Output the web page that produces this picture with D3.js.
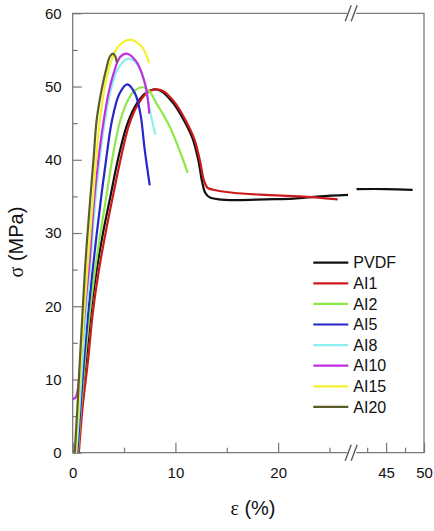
<!DOCTYPE html>
<html>
<head>
<meta charset="utf-8">
<script src="https://cdn.jsdelivr.net/npm/d3@7"></script>
<style>
  body { margin: 0; background: #fff; }
  #container { width: 434px; height: 531px; }
  text { font-family: "Liberation Sans", Arial, sans-serif; fill: #111; }
</style>
</head>
<body>
<div id="container"></div>
<script>
// series names + colours (legend order)
const seriesNames = ["PVDF", "AI1", "AI2", "AI5", "AI8", "AI10", "AI15", "AI20"];
const seriesColors = ["#111111", "#cc1a1a", "#8ee84a", "#2626cc", "#8cf0f0", "#c22fe0", "#f2f22e", "#5c5c2a"];

// strain (%) , stress (MPa)
const pvdf = [[0.4,0],[0.75,6],[1.3,12.7],[1.75,19],[2.33,24.9],[2.95,30],[3.7,35.2],[4.4,40],[5.2,44.4],[6.0,47.1],[7.0,49.0],[7.8,49.6],[8.6,49.4],[9.8,47.7],[10.9,45.2],[11.7,42.8],[12.25,39.8],[12.6,37],[12.9,35.5],[13.3,34.9],[14.2,34.6],[16,34.5],[18.8,34.6],[21.5,34.7],[24,35.0],[26.8,35.2]];
const pvdfTail = [[41.1,36.0],[45,36.0],[48.5,35.9]];
const ai1 = [[0.6,0],[0.95,6],[1.5,12.7],[1.95,19],[2.55,24.9],[3.2,30],[3.94,35.2],[4.7,40.3],[5.45,44.6],[6.25,47.3],[7.2,49.1],[8.0,49.6],[8.8,49.4],[10.0,47.7],[11.1,45.1],[11.85,42.8],[12.4,39.8],[12.75,37.3],[13.1,36.2],[13.7,35.9],[15.6,35.5],[18.8,35.2],[22.1,35.0],[25.8,34.6]];
const ai2 = [[0.5,0],[0.8,6],[1.2,12.7],[1.65,19],[2.17,24.9],[2.7,30],[3.3,35.2],[3.9,40.5],[4.6,45.2],[5.4,48.2],[6.1,49.5],[6.8,49.9],[7.5,49.3],[8.15,47.7],[8.8,46.2],[9.45,44.5],[10.4,41.3],[11.2,38.2]];
const ai5 = [[0.45,0],[0.75,6],[1.1,12.7],[1.5,19],[1.94,24.9],[2.35,30],[2.8,35.2],[3.3,40.5],[3.8,45.2],[4.55,49.0],[5.3,50.3],[6.05,49.1],[6.6,46.2],[7.0,41.5],[7.5,36.5]];
const ai8 = [[0.35,0],[0.65,6],[0.95,12.7],[1.3,19],[1.68,24.9],[1.95,30],[2.26,35.2],[2.65,40.5],[3.14,45.4],[3.7,49.5],[4.4,52.4],[5.4,53.8],[6.3,53],[6.9,51],[7.5,46.8],[8.05,43.4]];
const ai10 = [[0,7.3],[0.3,7.6],[0.55,9.2],[0.9,15],[1.25,20.5],[1.6,25.5],[2.13,35.2],[2.5,40],[3.0,45.2],[3.5,49.2],[3.94,51.6],[4.6,54.0],[5.24,54.5],[6.2,53.4],[7.0,50.6],[7.3,48.4],[7.45,46.3]];
const ai15 = [[0.3,0],[0.55,6],[0.8,12.7],[1.1,19],[1.42,24.9],[1.7,30],[2.0,35.2],[2.3,40.5],[2.65,45.4],[3.2,50.5],[3.78,53.6],[4.4,55.4],[5.56,56.4],[6.7,55.5],[7.1,54.5],[7.44,53.2]];
const ai20 = [[0.2,0],[0.45,6],[0.7,12.7],[0.95,19],[1.19,24.9],[1.45,30],[1.74,35.2],[2.05,40.5],[2.33,45.4],[2.82,49.6],[3.3,52.6],[3.62,54.1],[3.94,54.5],[4.15,54.1],[4.3,53.3]];

const xMajor = [0, 10, 20, 45, 50];
const xMinor = [5, 15, 25, 42.5, 47.5];
const yMajor = [0, 10, 20, 30, 40, 50, 60];
const yMinor = [5, 15, 25, 35, 45, 55];

const seriesData = [pvdf, ai1, ai2, ai5, ai8, ai10, ai15, ai20];

function drawChart() {
  const margin = { top: 13.3, right: 10, bottom: 78.3, left: 72.7 };
  const width = 434 - margin.left - margin.right;
  const height = 531 - margin.top - margin.bottom;

  const svg = d3
    .select("#container")
    .append("svg")
    .attr("width", 434)
    .attr("height", 531)
    .append("g")
    .attr("transform", `translate(${margin.left},${margin.top})`);

  // broken x axis: 0-26.8 then 40.5-50
  const x = d3.scaleLinear().domain([0, 26.8, 40.5, 50]).range([0, 275.3, 279.3, width]);
  const y = d3.scaleLinear().domain([0, 60]).range([height, 0]);

  // ticks (inward)
  svg.append("g").attr("transform", `translate(0,${height})`)
    .call(d3.axisBottom(x).tickValues(xMajor).tickSize(-10).tickPadding(15).tickFormat(d3.format("d")));
  svg.append("g").attr("transform", `translate(0,${height})`)
    .call(d3.axisBottom(x).tickValues(xMinor).tickSize(-5).tickFormat(""));
  svg.append("g")
    .call(d3.axisLeft(y).tickValues(yMajor).tickSize(-9).tickPadding(11));
  svg.append("g")
    .call(d3.axisLeft(y).tickValues(yMinor).tickSize(-5).tickFormat(""));

  svg.selectAll(".domain").remove();
  svg.selectAll(".tick line").attr("stroke", "#777").attr("stroke-width", 1.2);
  svg.selectAll(".tick text").style("font-size", "15px").style("font-family", "Liberation Sans, Arial, sans-serif").attr("fill", "#111");

  // frame with break gap
  const gapA = 274.5, gapB = 283.5;
  const frame = `M${gapA},${height}H0V0H${gapA}M${gapB},0H${width}V${height}H${gapB}`;
  svg.append("path").attr("d", frame).attr("fill", "none").attr("stroke", "#7a7a7a").attr("stroke-width", 1.3);

  // break marks //
  [0, height].forEach(yy => {
    [272.5, 278.5].forEach(bx => {
      svg.append("line")
        .attr("x1", bx).attr("y1", yy + 8)
        .attr("x2", bx + 6).attr("y2", yy - 8)
        .attr("stroke", "#555").attr("stroke-width", 1.3);
    });
  });

  const line = d3.line()
    .x(d => x(d[0]))
    .y(d => y(d[1]))
    .curve(d3.curveCatmullRom.alpha(0.5));

  seriesData.forEach((s, i) => {
    svg.append("path")
      .datum(s)
      .attr("d", line)
      .attr("fill", "none")
      .attr("stroke", seriesColors[i])
      .attr("stroke-width", 2.2);
  });
  svg.append("path")
    .datum(pvdfTail)
    .attr("d", line)
    .attr("fill", "none")
    .attr("stroke", seriesColors[0])
    .attr("stroke-width", 2.2);

  // legend
  const legend = svg.append("g").attr("transform", `translate(${313.3 - margin.left},${262.7 - margin.top})`);
  seriesNames.forEach((name, i) => {
    const row = legend.append("g").attr("transform", `translate(0,${i * 20.6})`);
    row.append("line").attr("x1", 0).attr("x2", 35).attr("y1", 0).attr("y2", 0)
      .attr("stroke", seriesColors[i]).attr("stroke-width", 2.2);
    row.append("text").attr("x", 40).attr("y", 0).attr("dy", "0.36em")
      .style("font-size", "16px").text(name);
  });

  // axis titles
  svg.append("text")
    .attr("transform", `translate(${16 - margin.left},${242 - margin.top}) rotate(-90)`)
    .attr("text-anchor", "middle")
    .attr("dy", "0.35em")
    .style("font-size", "20px")
    .html('<tspan style="font-family:Liberation Serif, serif">σ</tspan> (MPa)');

  svg.append("text")
    .attr("x", 253 - margin.left)
    .attr("y", 508 - margin.top)
    .attr("text-anchor", "middle")
    .attr("dy", "0.35em")
    .style("font-size", "20px")
    .html('<tspan style="font-family:Liberation Serif, serif">ε</tspan> (%)');
}

drawChart();
</script>
</body>
</html>
